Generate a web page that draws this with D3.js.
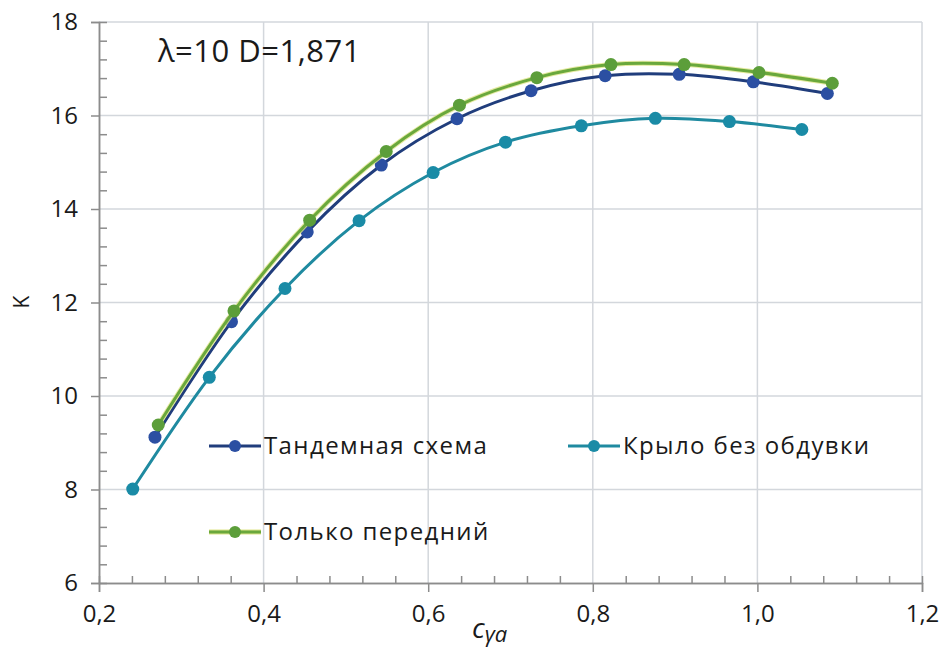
<!DOCTYPE html>
<html>
<head>
<meta charset="utf-8">
<script src="https://cdn.jsdelivr.net/npm/d3@7"></script>
<style>
  html, body { margin: 0; padding: 0; background: #fff; }
  svg { display: block; }
  text { font-family: "Open Sans", sans-serif; fill: #1a1a1a; }
</style>
</head>
<body>
<svg id="chart" width="939" height="648"></svg>
<script>
// ---- data ----
const seriesNames = ["Тандемная схема", "Крыло без обдувки", "Только передний"];
const tandemX = [0.268, 0.361, 0.453, 0.543, 0.635, 0.725, 0.815, 0.905, 0.995, 1.085];
const tandemY = [9.12, 11.59, 13.51, 14.94, 15.93, 16.53, 16.85, 16.88, 16.72, 16.47];
const wingX = [0.241, 0.334, 0.426, 0.516, 0.606, 0.694, 0.786, 0.876, 0.966, 1.054];
const wingY = [8.01, 10.40, 12.30, 13.75, 14.78, 15.43, 15.78, 15.94, 15.87, 15.70];
const frontX = [0.272, 0.364, 0.456, 0.549, 0.638, 0.732, 0.822, 0.911, 1.002, 1.091];
const frontY = [9.38, 11.82, 13.76, 15.23, 16.22, 16.81, 17.09, 17.09, 16.92, 16.69];
const xTicks = [0.2, 0.4, 0.6, 0.8, 1.0, 1.2];
const xTickLabels = ["0,2", "0,4", "0,6", "0,8", "1,0", "1,2"];
const yTicks = [6, 8, 10, 12, 14, 16, 18];
const yTickLabels = ["6", "8", "10", "12", "14", "16", "18"];
const annotation = "λ=10 D=1,871";
const yTitle = "K";

// ---- layout ----
const svg = d3.select("#chart");
const L = 99, R = 922, T = 22, B = 583;
const x = d3.scaleLinear().domain([0.2, 1.2]).range([L, R]);
const y = d3.scaleLinear().domain([6, 18]).range([B, T]);

const axisColor = "#8c8c8c", gridColor = "#d3d7dc";

// grid
const g = svg.append("g");
g.selectAll("line.hg").data(yTicks.slice(1)).join("line")
  .attr("x1", L).attr("x2", R).attr("y1", d => y(d)).attr("y2", d => y(d))
  .attr("stroke", gridColor).attr("stroke-width", 1.5);
g.selectAll("line.vg").data(xTicks.slice(1)).join("line")
  .attr("y1", T).attr("y2", B).attr("x1", d => x(d)).attr("x2", d => x(d))
  .attr("stroke", gridColor).attr("stroke-width", 1.5);

// minor ticks (inside)
const yMinor = d3.range(6, 18.001, 0.4).filter(v => Math.abs(v / 2 - Math.round(v / 2)) > 1e-6);
const xMinor = d3.range(0.2, 1.2001, 0.04).filter(v => Math.abs(v / 0.2 - Math.round(v / 0.2)) > 1e-6);

const yAxisMinor = d3.axisLeft(y).tickValues(yMinor).tickSize(-8).tickFormat("");
const xAxisMinor = d3.axisBottom(x).tickValues(xMinor).tickSize(-7).tickFormat("");
const yAxis = d3.axisLeft(y).tickValues(yTicks).tickSize(8).tickPadding(13)
  .tickFormat((d, i) => yTickLabels[i]);
const xAxis = d3.axisBottom(x).tickValues(xTicks).tickSize(9).tickPadding(13)
  .tickFormat((d, i) => xTickLabels[i]);

function styleAxis(sel, fs) {
  sel.select(".domain").attr("stroke", axisColor).attr("stroke-width", 1.5);
  sel.selectAll(".tick line").attr("stroke", axisColor).attr("stroke-width", 1.5);
  sel.selectAll(".tick text").attr("font-size", fs).attr("fill", "#1a1a1a")
    .attr("font-family", "'Open Sans', sans-serif");
}
svg.append("g").attr("transform", `translate(${L},0)`).call(yAxisMinor).call(s => styleAxis(s, 0));
svg.append("g").attr("transform", `translate(0,${B})`).call(xAxisMinor).call(s => styleAxis(s, 0));
svg.append("g").attr("transform", `translate(${L},0)`).call(yAxis).call(s => styleAxis(s, 24));
svg.append("g").attr("transform", `translate(0,${B})`).call(xAxis).call(s => styleAxis(s, 24));

// series
const series = [
  { name: seriesNames[0], xs: tandemX, ys: tandemY, line: "#203d7c", dot: "#2b4fa2", glow: null },
  { name: seriesNames[1], xs: wingX, ys: wingY, line: "#1f8aa0", dot: "#1a8ba6", glow: null },
  { name: seriesNames[2], xs: frontX, ys: frontY, line: "#6aa83c", dot: "#5c9e3a", glow: "#dfe58a" }
];
const lineGen = d3.line().x(d => x(d[0])).y(d => y(d[1])).curve(d3.curveCardinal.tension(0));

series.forEach(s => {
  const pts = s.xs.map((v, i) => [v, s.ys[i]]);
  if (s.glow) {
    svg.append("path").datum(pts).attr("d", lineGen).attr("fill", "none")
      .attr("stroke", s.glow).attr("stroke-width", 5).attr("stroke-opacity", 0.8);
  }
  svg.append("path").datum(pts).attr("d", lineGen).attr("fill", "none")
    .attr("stroke", s.line).attr("stroke-width", 3);
  svg.append("g").selectAll("circle").data(pts).join("circle")
    .attr("cx", d => x(d[0])).attr("cy", d => y(d[1])).attr("r", 6.5)
    .attr("fill", s.dot);
});

// legend
const legendPos = [[209, 446], [568, 446], [209, 532]];
series.forEach((s, i) => {
  const [lx, ly] = legendPos[i];
  const lg = svg.append("g");
  if (s.glow) lg.append("line").attr("x1", lx).attr("x2", lx + 52).attr("y1", ly).attr("y2", ly)
    .attr("stroke", s.glow).attr("stroke-width", 5);
  lg.append("line").attr("x1", lx).attr("x2", lx + 52).attr("y1", ly).attr("y2", ly)
    .attr("stroke", s.line).attr("stroke-width", 3);
  lg.append("circle").attr("cx", lx + 26).attr("cy", ly).attr("r", 6).attr("fill", s.dot);
  lg.append("text").attr("x", lx + 55).attr("y", ly).attr("dy", "0.35em")
    .attr("font-size", 24).attr("letter-spacing", 1.4).text(s.name);
});

// annotation
svg.append("text").attr("x", 158).attr("y", 62).attr("font-size", 31)
  .attr("letter-spacing", 0.5).text(annotation);

// y title
svg.append("text").attr("transform", "translate(29,302) rotate(-90)")
  .attr("text-anchor", "middle").attr("font-size", 21).text(yTitle);

// x title: c_ya
const xt = svg.append("text").attr("x", 472).attr("y", 638)
  .attr("font-family", "'Liberation Serif', serif").attr("font-style", "italic").attr("font-size", 28);
xt.append("tspan").text("c");
xt.append("tspan").attr("dy", 4).attr("font-size", 22).text("γa");
</script>
</body>
</html>
